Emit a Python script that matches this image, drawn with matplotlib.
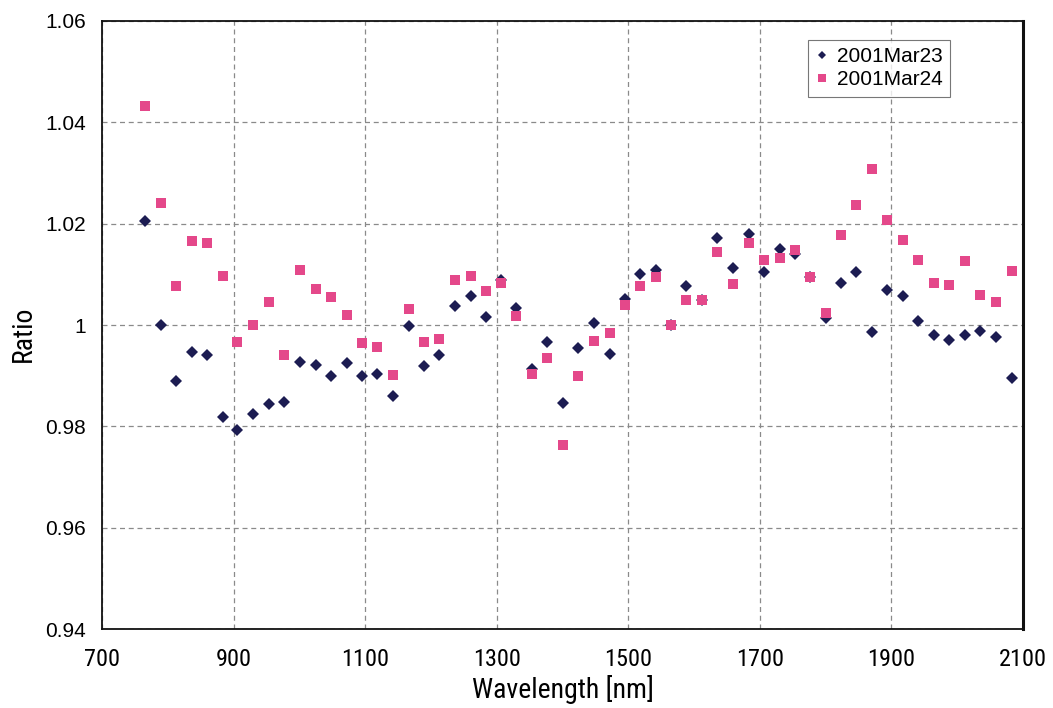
import matplotlib
matplotlib.use("Agg")
import matplotlib.pyplot as plt
from matplotlib import font_manager
from matplotlib.ticker import FixedLocator

# Wavelength sampling points [nm]
wavelength = [764.7, 788.6, 811.9, 835.7, 859.0, 882.8, 905.0, 929.3, 953.6, 976.0,
              1000.3, 1024.2, 1047.4, 1071.3, 1094.5, 1116.9, 1142.1, 1166.4, 1188.8, 1212.0,
              1235.9, 1260.2, 1283.0, 1305.8, 1329.6, 1353.3, 1376.7, 1400.5, 1423.3, 1447.1,
              1471.4, 1494.2, 1518.1, 1541.3, 1564.6, 1588.0, 1611.7, 1635.1, 1658.8, 1682.7,
              1705.5, 1729.8, 1752.6, 1776.4, 1799.7, 1824.0, 1846.8, 1871.1, 1893.9, 1917.8,
              1941.0, 1964.9, 1988.1, 2012.0, 2035.3, 2059.1, 2082.8]

# Ratio, 2001 Mar 23
ratio_mar23 = [1.0205, 1.0000, 0.9890, 0.9947, 0.9940, 0.9819, 0.9794, 0.9825, 0.9844, 0.9848,
               0.9928, 0.9921, 0.9900, 0.9925, 0.9900, 0.9904, 0.9860, 0.9998, 0.9919, 0.9940,
               1.0038, 1.0057, 1.0016, 1.0088, 1.0033, 0.9913, 0.9967, 0.9846, 0.9955, 1.0003,
               0.9942, 1.0051, 1.0100, 1.0108, 1.0000, 1.0076, 1.0049, 1.0172, 1.0112, 1.0179,
               1.0105, 1.0149, 1.0140, 1.0095, 1.0013, 1.0083, 1.0104, 0.9986, 1.0069, 1.0058,
               1.0007, 0.9980, 0.9970, 0.9980, 0.9989, 0.9976, 0.9895]

# Ratio, 2001 Mar 24
ratio_mar24 = [1.0432, 1.0240, 1.0077, 1.0166, 1.0162, 1.0097, 0.9967, 1.0000, 1.0045, 0.9941,
               1.0108, 1.0071, 1.0055, 1.0020, 0.9964, 0.9957, 0.9901, 1.0032, 0.9967, 0.9972,
               1.0089, 1.0097, 1.0068, 1.0083, 1.0018, 0.9903, 0.9934, 0.9764, 0.9900, 0.9968,
               0.9984, 1.0039, 1.0076, 1.0094, 1.0000, 1.0049, 1.0049, 1.0143, 1.0081, 1.0161,
               1.0128, 1.0133, 1.0148, 1.0095, 1.0024, 1.0178, 1.0236, 1.0308, 1.0206, 1.0167,
               1.0129, 1.0083, 1.0079, 1.0127, 1.0060, 1.0045, 1.0106]

series_labels = ["2001Mar23", "2001Mar24"]
x_ticks = [700, 900, 1100, 1300, 1500, 1700, 1900, 2100]
y_ticks = [0.94, 0.96, 0.98, 1.00, 1.02, 1.04, 1.06]
y_tick_labels = ["0.94", "0.96", "0.98", "1", "1.02", "1.04", "1.06"]

navy = "#1c1c52"
pink = "#e4488a"

installed = {f.name for f in font_manager.fontManager.ttflist}

# condensed family -> (x tick size, axis label size)
narrow_sizes = {
    "DejaVu Sans Condensed": (15, 15.5),
    "Roboto Condensed": (17.5, 20),
    "Liberation Sans Narrow": (17.5, 20),
    "Open Sans Condensed": (17, 19),
    "Liberation Sans": (15, 16),
}
narrow_name = next((n for n in narrow_sizes if n in installed), "DejaVu Sans")
xtick_size, label_size = narrow_sizes.get(narrow_name, (14, 15))
narrow = [narrow_name, "DejaVu Sans"]
regular = ["Liberation Sans", "DejaVu Sans"] if "Liberation Sans" in installed else ["DejaVu Sans"]

fig = plt.figure(figsize=(10.53, 7.08), dpi=100)
ax = fig.add_axes([0.0972, 0.1109, 0.8743, 0.8601])

ax.plot(wavelength, ratio_mar23, linestyle="none", marker="D", markersize=6.2,
        color=navy, markeredgewidth=0, label=series_labels[0], zorder=3)
ax.plot(wavelength, ratio_mar24, linestyle="none", marker="s", markersize=7.6,
        color=pink, markeredgewidth=0, label=series_labels[1], zorder=4)

ax.set_xlim(700, 2100)
ax.set_ylim(0.94, 1.06)
ax.xaxis.set_major_locator(FixedLocator(x_ticks))
ax.yaxis.set_major_locator(FixedLocator(y_ticks))
ax.set_xticklabels([str(t) for t in x_ticks], family=narrow, fontsize=xtick_size)
ax.set_yticklabels(y_tick_labels, family=regular, fontsize=15)
ax.tick_params(axis="both", length=0)
ax.tick_params(axis="x", pad=13)
ax.tick_params(axis="y", pad=12)

ax.grid(True, color="#8a8a8a", linestyle=(0, (4, 3)), linewidth=0.9)
ax.set_axisbelow(True)
for side in ax.spines.values():
    side.set_color("#111111")
    side.set_linewidth(1.3)
ax.spines["right"].set_linewidth(2.2)

ax.set_xlabel("Wavelength [nm]", family=narrow, fontsize=label_size, labelpad=3)
ax.set_ylabel("Ratio", family=narrow, fontsize=label_size)
ax.yaxis.set_label_coords(-0.071, 0.485)

leg = ax.legend(loc="upper left", bbox_to_anchor=(0.767, 0.968),
                prop={"family": regular, "size": 15}, frameon=True, fancybox=False,
                handlelength=0.6, handletextpad=0.4, borderpad=0.35,
                labelspacing=0.2, borderaxespad=0, markerscale=0.72)
leg.get_frame().set_edgecolor("#555555")
leg.get_frame().set_linewidth(0.8)

fig.savefig("out.png", dpi=100)
